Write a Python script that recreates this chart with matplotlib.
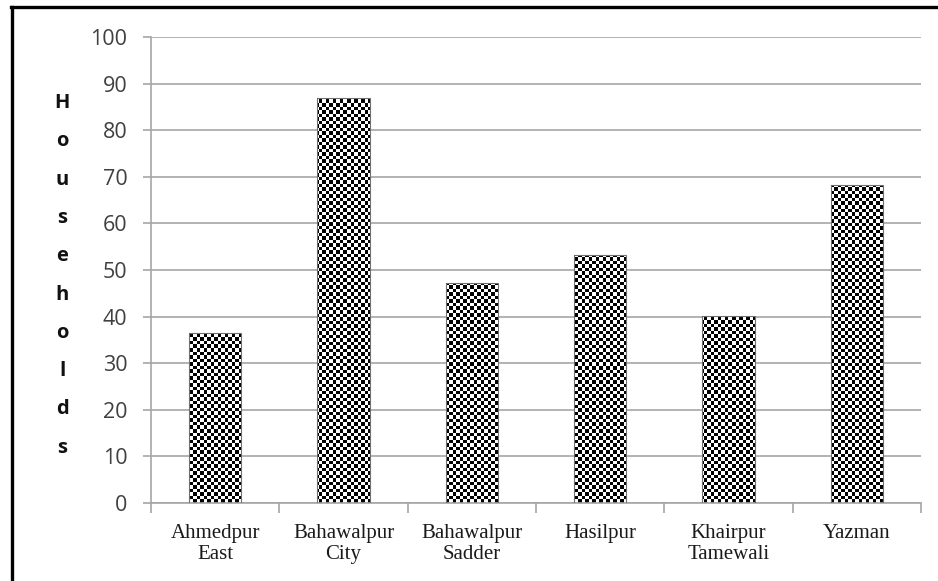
import numpy as np
import matplotlib
matplotlib.use('Agg')
import matplotlib.pyplot as plt
from matplotlib.lines import Line2D


# data
districts = ['Ahmedpur\nEast', 'Bahawalpur\nCity', 'Bahawalpur\nSadder',
             'Hasilpur', 'Khairpur\nTamewali', 'Yazman']
households = [36.5, 87, 47.3, 53.3, 40.2, 68.2]
y_ticks = [0, 10, 20, 30, 40, 50, 60, 70, 80, 90, 100]
y_title = 'Households'

W, H, DPI = 938, 581, 100
GRID_COLOR = '#a6a6a6'
CELL_PX = 3.5   # checker cell size in pixels


def checker_board(n_rows, n_cols):
    rr, cc = np.indices((n_rows, n_cols))
    return ((rr + cc) % 2).astype(float)


def main():
    fig = plt.figure(figsize=(W / DPI, H / DPI), dpi=DPI)
    ax_l, ax_r, ax_t, ax_b = 151, 921, 37, 503
    ax = fig.add_axes([ax_l / W, 1 - ax_b / H,
                       (ax_r - ax_l) / W, (ax_b - ax_t) / H])

    x = np.arange(len(districts))
    bars = ax.bar(x, households, width=0.41, facecolor='none',
                  edgecolor='#707070', linewidth=0.8, zorder=3)

    # checkered fill, clipped to each bar
    n_cols = int(round((ax_r - ax_l) / CELL_PX))
    n_rows = int(round((ax_b - ax_t) / CELL_PX))
    board = checker_board(n_rows, n_cols)
    for bar in bars:
        img = ax.imshow(board, cmap='gray', vmin=0, vmax=1,
                        extent=(-0.5, len(districts) - 0.5, 0, 100),
                        aspect='auto', interpolation='nearest',
                        zorder=2)
        img.set_clip_path(bar)

    ax.set_xlim(-0.5, len(districts) - 0.5)
    ax.set_ylim(0, 100)
    ax.set_yticks(y_ticks)
    ax.set_yticklabels([str(v) for v in y_ticks], family='Open Sans',
                       fontsize=15.5, color='#404040')
    ax.set_xticks(x)
    ax.set_xticklabels(districts, family='Liberation Serif',
                       fontsize=15, color='#1a1a1a', linespacing=1.15)
    ax.set_xticks(np.arange(len(districts) + 1) - 0.5, minor=True)
    ax.tick_params(axis='x', which='major', length=0, pad=15)
    ax.tick_params(axis='x', which='minor', length=7, width=1.2,
                   color=GRID_COLOR)
    ax.tick_params(axis='y', length=6, width=1.2, color=GRID_COLOR, pad=11)

    ax.grid(axis='y', color=GRID_COLOR, linewidth=1.2, zorder=0)
    ax.set_axisbelow(True)
    for side in ['top', 'right']:
        ax.spines[side].set_visible(False)
    for side in ['left', 'bottom']:
        ax.spines[side].set_color(GRID_COLOR)
        ax.spines[side].set_linewidth(1.2)

    # stacked vertical title, one letter per line
    top_px, step_px = 103, 38.3
    for i, ch in enumerate(y_title):
        fig.text(62 / W, 1 - (top_px + i * step_px) / H, ch,
                 family='Open Sans', fontweight='bold', fontsize=14.5,
                 ha='center', va='center', color='#111111')

    # black frame running off the right and bottom edges
    fig.add_artist(Line2D([11 / W, 1], [1 - 6.5 / H, 1 - 6.5 / H],
                          color='black', linewidth=2.4,
                          transform=fig.transFigure))
    fig.add_artist(Line2D([11.5 / W, 11.5 / W], [0, 1 - 6.5 / H],
                          color='black', linewidth=2.4,
                          transform=fig.transFigure))

    fig.savefig('out.png', dpi=DPI)
    plt.close(fig)


if __name__ == '__main__':
    main()
